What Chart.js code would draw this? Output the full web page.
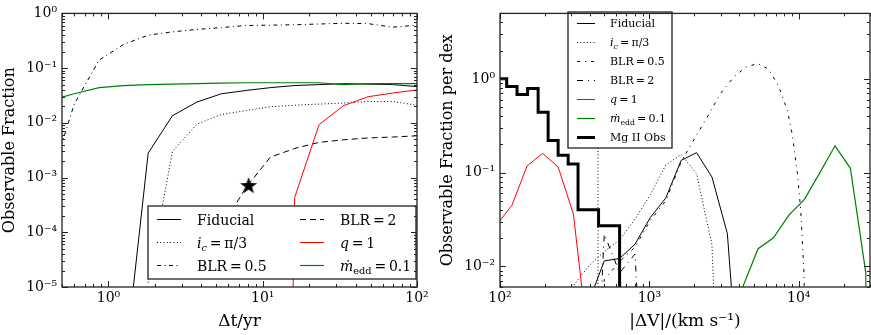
<!DOCTYPE html>
<html>
<head>
<meta charset="utf-8">
<script src="https://cdn.jsdelivr.net/npm/chart.js@4.4.1/dist/chart.umd.min.js"></script>
<style>
  body { margin: 0; background: #fff; }
  #wrap { position: relative; width: 871px; height: 335px; }
  #left { position: absolute; left: 0; top: 0; }
  #right { position: absolute; left: 435px; top: 0; }
</style>
</head>
<body>
<div id="wrap">
  <canvas id="left" width="435" height="335"></canvas>
  <canvas id="right" width="436" height="335"></canvas>
</div>
<script>
// left panel: observable fraction against baseline (yr)
var dtYears      = [0.42, 0.60, 0.87, 1.25, 1.81, 2.60, 3.75, 5.40, 7.77, 11.2, 16.1, 23.2, 33.5, 48.2, 69.4, 100];
var fracFiducial = [null, null, null, 2.3e-7, 2.8e-3, 1.35e-2, 2.4e-2, 0.034, 0.039, 0.044, 0.048, 0.050, 0.052, 0.051, 0.050, 0.046];
var fracIncl     = [null, null, null, null, 1.2e-5, 3.0e-3, 9.5e-3, 0.0142, 0.0167, 0.0197, 0.021, 0.022, 0.023, 0.0245, 0.0245, 0.021];
var fracBlrHalf  = [8.7e-4, 0.022, 0.14, 0.27, 0.40, 0.46, 0.51, 0.55, 0.60, 0.61, 0.62, 0.64, 0.66, 0.65, 0.56, 0.61];
var fracBlrTwo   = [null, null, null, null, null, null, null, 1.2e-4, 6.5e-4, 2.36e-3, 3.4e-3, 4.4e-3, 4.9e-3, 5.3e-3, 5.5e-3, 5.8e-3];
var fracQ1       = [null, null, null, null, null, null, null, null, null, 1e-30, 4.3e-4, 9.3e-3, 0.0207, 0.030, 0.035, 0.040];
var fracMdot     = [0.026, 0.034, 0.044, 0.048, 0.050, 0.051, 0.052, 0.053, 0.054, 0.054, 0.054, 0.054, 0.050, 0.052, 0.052, 0.052];
var starDt = 8.1, starFrac = 7.0e-4;

// right panel: observable fraction per dex against |dV| (km/s)
var dvGrid     = [95, 120, 152, 193, 245, 310, 394, 499, 632, 802, 1016, 1288, 1633, 2070, 2624, 3327, 4217, 5346, 6776, 8590, 10890, 13800, 17500, 22180, 28120, 35650];
var pdFiducial = [null, null, null, null, null, null, 0.0042, 0.0114, 0.0121, 0.0172, 0.0332, 0.0535, 0.135, 0.163, 0.0896, 0.0223, 1.5e-4, null, null, null, null, null, null, null, null, null];
var pdIncl     = [null, null, null, null, 1e-6, 0.0062, 0.0101, 0.0144, 0.019, 0.032, 0.058, 0.12, 0.156, 0.097, 0.017, 1e-6, null, null, null, null, null, null, null, null, null, null];
var pdBlrTwo   = [null, null, null, null, null, null, 1e-5, 0.022, 0.0085, 0.0135, 1e-5, null, null, null, null, null, null, null, null, null, null, null, null, null, null, null];
var pdQ1       = [0.0276, 0.0445, 0.118, 0.16, 0.115, 0.036, 1.3e-3, null, null, null, null, null, null, null, null, null, null, null, null, null, null, null, null, null, null, null];
var pdMdot     = [null, null, null, null, null, null, null, null, null, null, null, null, null, null, null, null, 0.0060, 0.0154, 0.0201, 0.0351, 0.0514, 0.0986, 0.193, 0.111, 0.0085, 1e-30];
var dvBlrHalf  = [394, 499, 632, 802, 1016, 1288, 1633, 1799, 2099, 2437, 2997, 3683, 4408, 5309, 6295, 7346, 8400, 9074, 9799, 10310, 10850, 11330];
var pdBlrHalf  = [1e-5, 0.0072, 0.0112, 0.016, 0.031, 0.050, 0.13, 0.17, 0.26, 0.39, 0.70, 1.05, 1.33, 1.46, 1.27, 0.83, 0.46, 0.25, 0.097, 0.040, 0.0084, 1e-5];
var mgEdges    = [94.7, 110.9, 130, 153, 180, 210, 245, 286, 333, 457, 632];
var mgFrac     = [1.0, 0.83, 0.68, 0.79, 0.44, 0.22, 0.153, 0.123, 0.040, 0.027];
var dvLimit    = 453;

Chart.defaults.font.family = "'DejaVu Serif', serif";
Chart.defaults.font.size = 14;
Chart.defaults.color = '#000';
Chart.defaults.animation = false;

function pairs(xs, ys) {
  return xs.map(function (x, i) { return {x: x, y: ys[i]}; });
}

var sup = {'-': '\u207B', '0': '\u2070', '1': '\u00B9', '2': '\u00B2', '3': '\u00B3', '4': '\u2074', '5': '\u2075'};
function decadeLabel(v) {
  var e = String(Math.round(Math.log10(v)));
  return '10' + e.split('').map(function (c) { return sup[c]; }).join('');
}
function decadeTicks(scale) {
  var out = [];
  var lo = Math.ceil(Math.log10(scale.min) - 1e-9), hi = Math.floor(Math.log10(scale.max) + 1e-9);
  for (var e = lo; e <= hi; e++) out.push({value: Math.pow(10, e)});
  scale.ticks = out;
}

function line(label, data, color, width, dash, order) {
  return {label: label, data: data, showLine: true, borderColor: color, borderWidth: width,
          borderDash: dash, pointRadius: 0, fill: false, order: order};
}

function makeStar(r) {
  var s = Math.ceil(r * 2) + 2, c = document.createElement('canvas');
  c.width = c.height = s;
  var g = c.getContext('2d');
  g.translate(s / 2, s / 2);
  g.beginPath();
  for (var i = 0; i < 10; i++) {
    var rad = i % 2 ? r * 0.4 : r, ang = -Math.PI / 2 + i * Math.PI / 5;
    g.lineTo(rad * Math.cos(ang), rad * Math.sin(ang));
  }
  g.closePath();
  g.fillStyle = '#000';
  g.fill();
  return c;
}

// label markup: *...* italic, _{...} subscript
function drawRich(ctx, text, x, y, size) {
  var parts = [], it = false, buf = '', i = 0;
  while (i < text.length) {
    var ch = text[i];
    if (ch === '*') { if (buf) parts.push({t: buf, it: it, sub: false}); buf = ''; it = !it; i++; }
    else if (ch === '_' && text[i + 1] === '{') {
      if (buf) parts.push({t: buf, it: it, sub: false}); buf = '';
      var j = text.indexOf('}', i);
      parts.push({t: text.slice(i + 2, j), it: it, sub: true});
      i = j + 1;
    } else { buf += ch; i++; }
  }
  if (buf) parts.push({t: buf, it: it, sub: false});
  var base = y + size * 0.36;
  ctx.fillStyle = '#000';
  ctx.textBaseline = 'alphabetic';
  ctx.textAlign = 'left';
  parts.forEach(function (p) {
    var fs = p.sub ? size * 0.7 : size;
    ctx.font = (p.it ? 'italic ' : '') + fs + "px 'DejaVu Serif', serif";
    ctx.fillText(p.t, x, base + (p.sub ? size * 0.22 : 0));
    x += ctx.measureText(p.t).width;
  });
}

var boxLegend = {
  id: 'boxLegend',
  afterDatasetsDraw: function (chart, args, o) {
    var ctx = chart.ctx;
    var items = chart.data.datasets.filter(function (d) { return !d.noLegend; });
    var rows = Math.ceil(items.length / o.cols);
    ctx.save();
    ctx.fillStyle = '#fff';
    ctx.fillRect(o.left, o.top, o.width, o.height);
    ctx.strokeStyle = '#222';
    ctx.lineWidth = 1.3;
    ctx.strokeRect(o.left, o.top, o.width, o.height);
    items.forEach(function (d, i) {
      var col = Math.floor(i / rows), row = i % rows;
      var x0 = o.left + o.padX + col * o.colWidth;
      var y = Math.round(o.top + o.firstRow + row * o.rowHeight) + 0.5;
      ctx.beginPath();
      ctx.strokeStyle = d.borderColor;
      ctx.lineWidth = d.borderWidth;
      ctx.setLineDash(d.borderDash || []);
      ctx.moveTo(x0, y);
      ctx.lineTo(x0 + o.sample, y);
      ctx.stroke();
      ctx.setLineDash([]);
      drawRich(ctx, d.label, x0 + o.textGap, y, o.fontSize);
    });
    ctx.restore();
  }
};

var frame = {
  id: 'frame',
  afterDraw: function (chart) {
    var a = chart.chartArea, ctx = chart.ctx;
    ctx.save();
    ctx.strokeStyle = '#222';
    ctx.lineWidth = 1;
    function marks(scale, horizontal) {
      var lo = Math.floor(Math.log10(scale.min)), hi = Math.ceil(Math.log10(scale.max));
      for (var e = lo; e <= hi; e++) {
        for (var m = 1; m < 10; m++) {
          var v = m * Math.pow(10, e);
          if (v < scale.min * 0.999 || v > scale.max * 1.001) continue;
          var len = m === 1 ? 6 : 3;
          var p = Math.round(scale.getPixelForValue(v)) + 0.5;
          ctx.beginPath();
          if (horizontal) {
            ctx.moveTo(p, a.bottom); ctx.lineTo(p, a.bottom - len);
            ctx.moveTo(p, a.top); ctx.lineTo(p, a.top + len);
          } else {
            ctx.moveTo(a.left, p); ctx.lineTo(a.left + len, p);
            ctx.moveTo(a.right, p); ctx.lineTo(a.right - len, p);
          }
          ctx.stroke();
        }
      }
    }
    marks(chart.scales.x, true);
    marks(chart.scales.y, false);
    ctx.lineWidth = 1.3;
    ctx.strokeRect(a.left, a.top, a.right - a.left, a.bottom - a.top);
    ctx.restore();
  }
};

function axes(xmin, xmax, ymin, ymax, xTitle, yTitle, yWidth, yTitlePad) {
  return {
    x: {
      type: 'logarithmic', min: xmin, max: xmax,
      grid: {display: false, drawTicks: false}, border: {display: false},
      afterBuildTicks: decadeTicks,
      afterFit: function (s) { s.height = 48; },
      ticks: {callback: decadeLabel, padding: 3, autoSkip: false, maxRotation: 0},
      title: {display: true, text: xTitle, font: {size: 17}, padding: {top: 0, bottom: 3}}
    },
    y: {
      type: 'logarithmic', min: ymin, max: ymax,
      grid: {display: false, drawTicks: false}, border: {display: false},
      afterBuildTicks: decadeTicks,
      afterFit: function (s) { s.width = yWidth; },
      ticks: {callback: decadeLabel, padding: 5, autoSkip: false},
      title: {display: true, text: yTitle, font: {size: 16}, padding: {top: yTitlePad, bottom: 0}}
    }
  };
}

var black = '#000', red = '#ff0000', green = '#008000';
var eq = '\u2009=\u2009';

new Chart(document.getElementById('left'), {
  type: 'scatter',
  data: {
    datasets: [
      line('Fiducial', pairs(dtYears, fracFiducial), black, 1, [], 10),
      line('*i_{c}*' + eq + '\u03C0/3', pairs(dtYears, fracIncl), black, 1, [1, 2.3], 9),
      line('BLR' + eq + '0.5', pairs(dtYears, fracBlrHalf), black, 1, [4, 3.5, 1, 3.5], 8),
      line('BLR' + eq + '2', pairs(dtYears, fracBlrTwo), black, 1, [6, 4], 7),
      line('*q*' + eq + '1', pairs(dtYears, fracQ1), red, 1, [], 6),
      line('*m\u0307*_{edd}' + eq + '0.1', pairs(dtYears, fracMdot), green, 1.2, [], 5),
      {label: 'star', noLegend: true, data: [{x: starDt, y: starFrac}], pointStyle: makeStar(9),
       pointRadius: 9, showLine: false, order: 0}
    ]
  },
  options: {
    responsive: false,
    layout: {padding: {left: 0, right: 18, top: 11, bottom: 0}},
    scales: axes(0.5, 100, 1e-5, 1, '\u0394t/yr', 'Observable Fraction', 62, 0),
    plugins: {
      legend: {display: false}, tooltip: {enabled: false},
      boxLegend: {left: 148, top: 206, width: 268, height: 73, cols: 2, firstRow: 12.5,
                  rowHeight: 23.3, padX: 9, colWidth: 143, sample: 24, textGap: 40, fontSize: 14}
    }
  },
  plugins: [boxLegend, frame]
});

var mgData = pairs(mgEdges.slice(0, mgFrac.length), mgFrac);
mgData.push({x: mgEdges[mgEdges.length - 1], y: 1e-30});

new Chart(document.getElementById('right'), {
  type: 'scatter',
  data: {
    datasets: [
      {label: 'limit', noLegend: true, data: [{x: dvLimit, y: 1e-3}, {x: dvLimit, y: 10}], showLine: true,
       borderColor: black, borderWidth: 1, borderDash: [1, 2.3], pointRadius: 0, order: 20},
      line('Fiducial', pairs(dvGrid, pdFiducial), black, 1, [], 10),
      line('*i_{c}*' + eq + '\u03C0/3', pairs(dvGrid, pdIncl), black, 1, [1, 2.3], 9),
      line('BLR' + eq + '0.5', pairs(dvBlrHalf, pdBlrHalf), black, 1, [3, 5, 1, 5], 8),
      line('BLR' + eq + '2', pairs(dvGrid, pdBlrTwo), black, 1, [6, 5, 1, 5], 7),
      line('*q*' + eq + '1', pairs(dvGrid, pdQ1), red, 1, [], 6),
      line('*m\u0307*_{edd}' + eq + '0.1', pairs(dvGrid, pdMdot), green, 1.2, [], 5),
      Object.assign(line('Mg II Obs', mgData, black, 3, [], 4), {stepped: true})
    ]
  },
  options: {
    responsive: false,
    layout: {padding: {left: 0, right: 1, top: 4, bottom: 0}},
    scales: axes(100, 30000, 0.006, 5, '|\u0394V|/(km s\u207B\u00B9)', 'Observable Fraction per dex', 65, 3),
    plugins: {
      legend: {display: false}, tooltip: {enabled: false},
      boxLegend: {left: 133, top: 12, width: 104, height: 136, cols: 1, firstRow: 11,
                  rowHeight: 19, padX: 9, colWidth: 0, sample: 18, textGap: 33, fontSize: 11}
    }
  },
  plugins: [boxLegend, frame]
});
</script>
</body>
</html>
